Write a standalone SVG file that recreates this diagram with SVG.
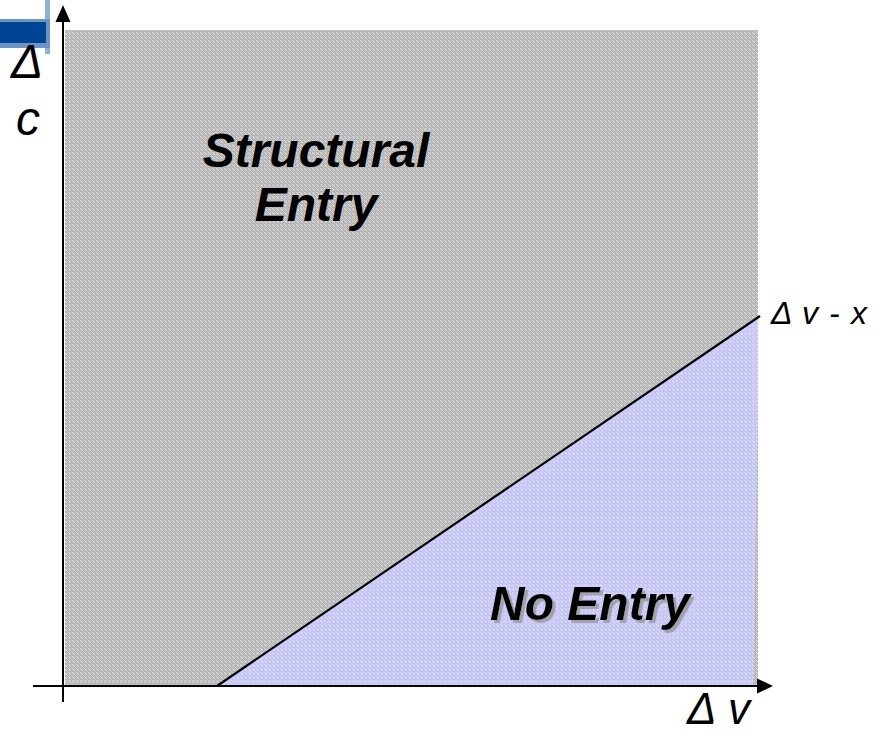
<svg xmlns="http://www.w3.org/2000/svg" width="880" height="734" viewBox="0 0 880 734">
<style>
.lbl{font-family:"Liberation Sans",Arial,sans-serif;font-style:italic;fill:#000}
.big{font-size:48px;font-weight:bold}
.ax{stroke:#000;stroke-width:2;fill:none}
</style>
<defs>
<pattern id="pg" width="4" height="4" patternUnits="userSpaceOnUse">
<rect width="4" height="4" fill="#b4b4b4"/>
<rect x="0" y="0" width="1" height="1" fill="#d6d6d6"/>
<rect x="2" y="2" width="1" height="1" fill="#d6d6d6"/>
<rect x="2" y="0" width="1" height="1" fill="#c8c8c8"/>
<rect x="0" y="2" width="1" height="1" fill="#c8c8c8"/>
<rect x="1" y="1" width="1" height="1" fill="#f0f0f0"/>
<rect x="3" y="3" width="1" height="1" fill="#c2c2c2"/>
</pattern>
<pattern id="pb" width="4" height="4" patternUnits="userSpaceOnUse">
<rect width="4" height="4" fill="#c6c6fb"/>
<rect x="0" y="0" width="1" height="1" fill="#dcdcff"/>
<rect x="2" y="2" width="1" height="1" fill="#dcdcff"/>
<rect x="1" y="1" width="1" height="1" fill="#eeeeff"/>
</pattern>
<filter id="sh" x="-10%" y="-10%" width="130%" height="140%">
<feDropShadow dx="3" dy="3" stdDeviation="0.6" flood-color="#999" flood-opacity="0.8"/>
</filter>
</defs>
<rect width="880" height="734" fill="#fff"/>
<g id="corner-bar">
<rect x="0" y="0" width="50" height="54" fill="#fff"/>
<rect x="45" y="0" width="5" height="54" fill="#8fb0d8"/>
<rect x="0" y="19" width="50" height="29" fill="#6f93c4"/>
<rect x="0" y="22" width="46" height="21" fill="#004494"/>
</g>
<g id="region-structural">
<rect x="65" y="30" width="693" height="656" fill="url(#pg)"/>
</g>
<g id="region-noentry">
<polygon points="217,686 758,316 758,400 753,686" fill="url(#pb)"/>
</g>
<g id="connectors">
<line class="ax" x1="63" y1="20" x2="63" y2="702"/>
<polygon points="63,5 55.5,22 70.5,22" fill="#000"/>
<line class="ax" x1="33" y1="686" x2="758" y2="686"/>
<polygon points="773,686 757,678.5 757,693.5" fill="#000"/>
<line x1="217" y1="686" x2="760" y2="316" stroke="#000" stroke-width="2.2"/>
</g>
<g id="labels">
<text class="lbl" x="11" y="78" font-size="48">Δ</text>
<text class="lbl" x="16" y="135" font-size="48">c</text>
<text class="lbl" x="687" y="724" font-size="44">Δ</text>
<text class="lbl" x="728" y="724" font-size="44">v</text>
<text class="lbl" x="771" y="324" font-size="32">Δ</text>
<text class="lbl" x="802" y="324" font-size="32">v</text>
<text class="lbl" x="829" y="324" font-size="32">-</text>
<text class="lbl" x="851" y="324" font-size="32">x</text>
</g>
<g id="node-structural">
<text class="lbl big" x="316" y="167" text-anchor="middle">Structural</text>
<text class="lbl big" x="316" y="221" text-anchor="middle">Entry</text>
</g>
<g id="node-noentry">
<text class="lbl big" x="590" y="620" text-anchor="middle" filter="url(#sh)">No Entry</text>
</g>
</svg>
